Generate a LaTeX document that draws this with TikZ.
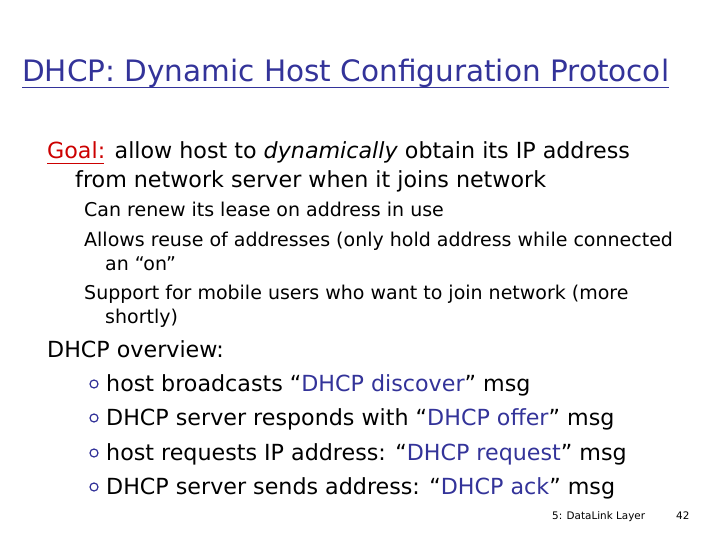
\documentclass[tikz,border=0pt]{standalone}
\usepackage{fontspec}
\setmainfont{DejaVu Sans}
\definecolor{tblue}{RGB}{51,51,153}
\definecolor{tred}{RGB}{204,0,0}
\begin{document}
\begin{tikzpicture}[x=1pt,y=-1pt,
  txt/.style={anchor=base west,inner sep=0pt},
  big/.style={txt,font=\fontsize{22.2}{26}\selectfont},
  small/.style={txt,font=\fontsize{19}{22}\selectfont},
  bul/.style={draw=tblue,fill=white,line width=1.2pt}]
\useasboundingbox (0,0) rectangle (720,540);
\node[txt,font=\fontsize{29.5}{34}\selectfont,text=tblue] (title) at (22,82) {DHCP: Dynamic Host Configuration Protocol};
\draw[tblue,line width=1pt] (title.south west|-0,88) -- (title.south east|-0,88);
\node[big] (g1) at (47,159) {{\color{tred}Goal:} allow host to \textit{dynamically} obtain its IP address};
\draw[tred,line width=1pt] (47,164) -- (104,164);
\node[big] (g2) at (75,188) {from network server when it joins network};
\node[small] (s1) at (84,217) {Can renew its lease on address in use};
\node[small] (s2) at (84,246) {Allows reuse of addresses (only hold address while connected};
\node[small] (s3) at (105,270) {an “on”};
\node[small] (s4) at (84,299) {Support for mobile users who want to join network (more};
\node[small] (s5) at (105,323) {shortly)};
\node[big] (o) at (47,357) {DHCP overview:};
\foreach \y/\t [count=\i] in {391/{host broadcasts “{\color{tblue}DHCP discover}” msg},
  425/{DHCP server responds with “{\color{tblue}DHCP offer}” msg},
  460/{host requests IP address: “{\color{tblue}DHCP request}” msg},
  494/{DHCP server sends address: “{\color{tblue}DHCP ack}” msg}}{
  \draw[bul] (94,\y-7) circle (4);
  \node[big] (b\i) at (106,\y) {\t};
}
\node[txt,font=\fontsize{10.4}{12}\selectfont] (foot) at (552,519) {5: DataLink Layer};
\node[txt,font=\fontsize{10.4}{12}\selectfont] (num) at (676,519) {42};
\end{tikzpicture}
\end{document}
